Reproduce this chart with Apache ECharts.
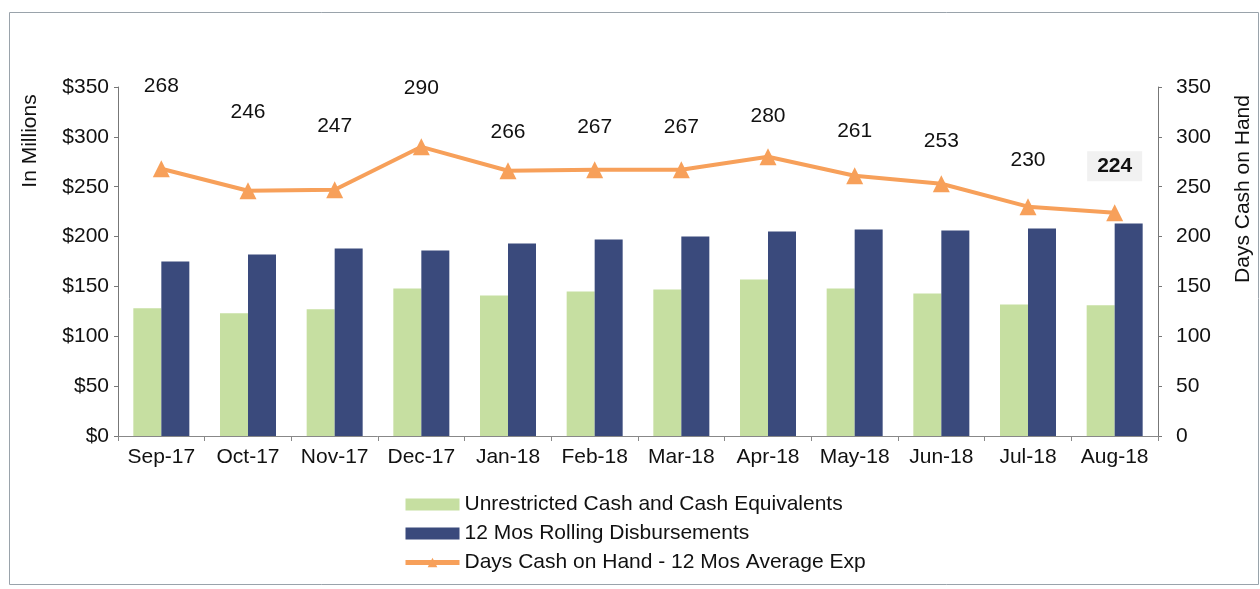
<!DOCTYPE html>
<html>
<head>
<meta charset="utf-8">
<script src="https://cdn.jsdelivr.net/npm/echarts@6/dist/echarts.min.js"></script>
<style>
  html, body { margin: 0; padding: 0; background: #fff; }
  #chart { width: 1260px; height: 589px; }
</style>
</head>
<body>
<div id="chart"></div>
<script>
// Monthly cash position, in millions, with days cash on hand
const months = ['Sep-17', 'Oct-17', 'Nov-17', 'Dec-17', 'Jan-18', 'Feb-18',
                'Mar-18', 'Apr-18', 'May-18', 'Jun-18', 'Jul-18', 'Aug-18'];
const unrestrictedCash = [128, 123, 127, 148, 141, 145, 147, 157, 148, 143, 132, 131];
const rollingDisbursements = [175, 182, 188, 186, 193, 197, 200, 205, 207, 206, 208, 213];
const daysCashOnHand = [268, 246, 247, 290, 266, 267, 267, 280, 261, 253, 230, 224];
const leftTicks = ['$0', '$50', '$100', '$150', '$200', '$250', '$300', '$350'];

// How far each day-count label sits above its marker
const labelLift = [64, 59, 45, 40, 20, 24, 24, 22, 26, 24, 27, 23];

const FONT = '"Liberation Sans", Arial, sans-serif';
const GREEN = '#c6dfa1';
const NAVY = '#3a4a7c';
const ORANGE = '#f7a05a';

const lineData = daysCashOnHand.map((v, i) => {
  const item = { value: v, label: { distance: labelLift[i] } };
  if (i === daysCashOnHand.length - 1) {
    item.label = {
      distance: labelLift[i],
      fontWeight: 'bold',
      backgroundColor: '#f1f1f1',
      padding: [5, 10, 4, 10]
    };
  }
  return item;
});

const chart = echarts.init(document.getElementById('chart'));
chart.setOption({
  animation: false,
  backgroundColor: '#fff',
  textStyle: { fontFamily: FONT },
  grid: { left: 118, right: 102, top: 87, bottom: 153, containLabel: false },
  legend: {
    orient: 'vertical',
    left: 398,
    top: 489,
    itemWidth: 54,
    itemHeight: 12,
    itemGap: 8,
    textStyle: { fontFamily: FONT, fontSize: 21, color: '#111' },
    data: [
      { name: 'Unrestricted Cash and Cash Equivalents', icon: 'rect' },
      { name: '12 Mos Rolling Disbursements', icon: 'rect' },
      { name: 'Days Cash on Hand - 12 Mos Average Exp', lineStyle: { width: 5 } }
    ]
  },
  xAxis: {
    type: 'category',
    data: months,
    boundaryGap: true,
    axisLine: { lineStyle: { color: '#888', width: 1 } },
    axisTick: { show: true, alignWithLabel: false, interval: 0, length: 5, lineStyle: { color: '#888' } },
    axisLabel: { color: '#111', fontSize: 21, fontFamily: FONT, margin: 11, interval: 0 }
  },
  yAxis: [
    {
      type: 'value',
      min: 0, max: 350, interval: 50,
      splitLine: { show: false },
      axisLine: { show: true, lineStyle: { color: '#777', width: 1 } },
      axisTick: { show: true, length: 4, lineStyle: { color: '#777' } },
      axisLabel: {
        color: '#111', fontSize: 21, fontFamily: FONT, margin: 9,
        formatter: v => leftTicks[v / 50]
      }
    },
    {
      type: 'value',
      min: 0, max: 350, interval: 50,
      position: 'right',
      splitLine: { show: false },
      axisLine: { show: true, lineStyle: { color: '#777', width: 1 } },
      axisTick: { show: true, length: 4, lineStyle: { color: '#777' } },
      axisLabel: { color: '#111', fontSize: 21, fontFamily: FONT, margin: 18 }
    }
  ],
  graphic: [
    {
      type: 'rect',
      shape: { x: 9.5, y: 12.5, width: 1249, height: 572 },
      style: { fill: 'none', stroke: '#9aa3ab', lineWidth: 1 },
      silent: true
    },
    {
      type: 'text',
      x: 30, y: 141, rotation: Math.PI / 2,
      style: {
        text: 'In Millions', font: '21px ' + FONT, fill: '#111',
        textAlign: 'center', textVerticalAlign: 'middle'
      }
    },
    {
      type: 'text',
      x: 1243, y: 189, rotation: Math.PI / 2,
      style: {
        text: 'Days Cash on Hand', font: '21px ' + FONT, fill: '#111',
        textAlign: 'center', textVerticalAlign: 'middle'
      }
    }
  ],
  series: [
    {
      name: 'Unrestricted Cash and Cash Equivalents',
      type: 'bar',
      data: unrestrictedCash,
      barWidth: 28,
      barGap: '0%',
      itemStyle: { color: GREEN }
    },
    {
      name: '12 Mos Rolling Disbursements',
      type: 'bar',
      data: rollingDisbursements,
      barWidth: 28,
      itemStyle: { color: NAVY }
    },
    {
      name: 'Days Cash on Hand - 12 Mos Average Exp',
      type: 'line',
      yAxisIndex: 1,
      data: lineData,
      symbol: 'triangle',
      symbolSize: 17,
      lineStyle: { color: ORANGE, width: 4 },
      itemStyle: { color: ORANGE },
      label: {
        show: true,
        position: 'top',
        color: '#111',
        fontSize: 21,
        fontFamily: FONT
      },
      z: 5
    }
  ]
});
</script>
</body>
</html>
